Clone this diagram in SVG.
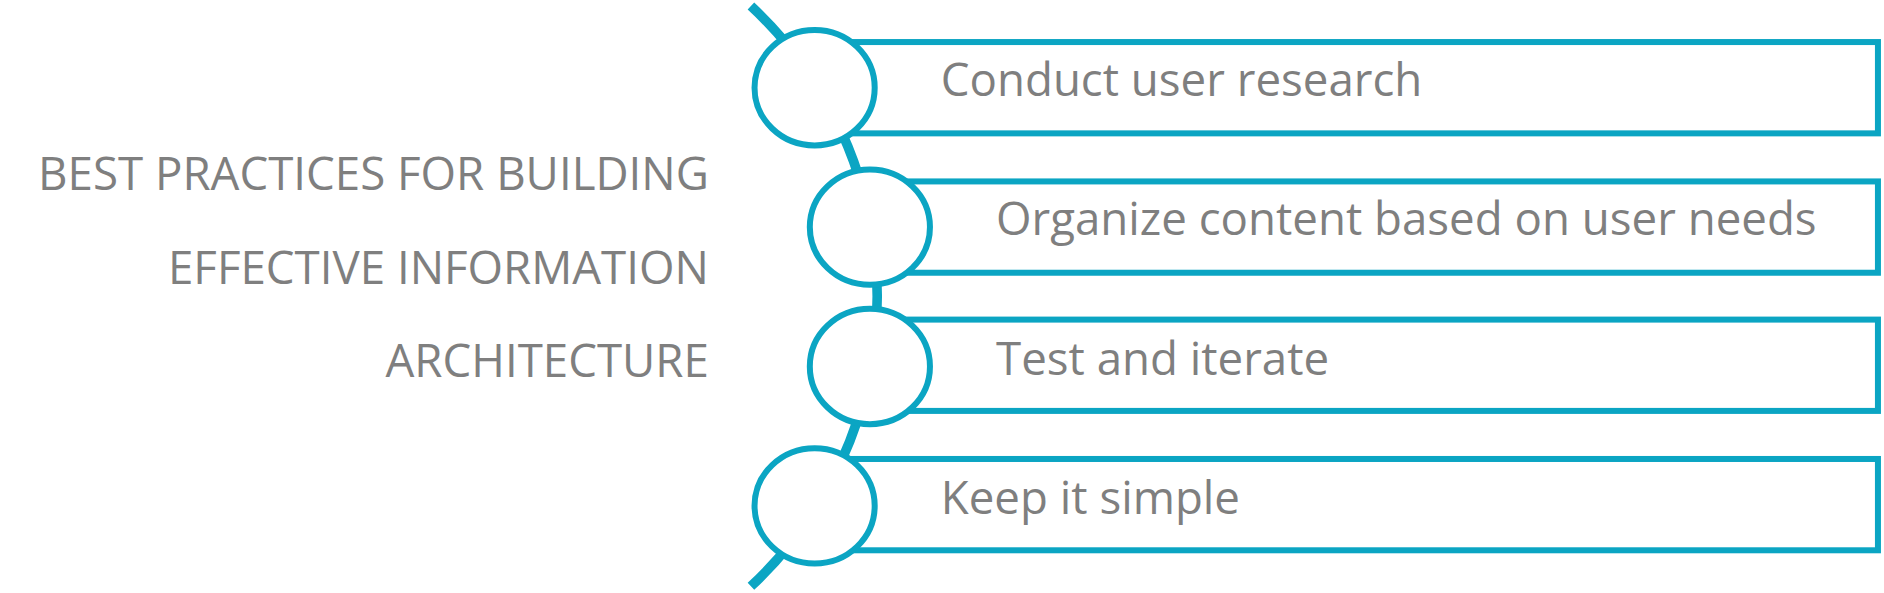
<svg xmlns="http://www.w3.org/2000/svg" width="1884" height="593" viewBox="0 0 1884 593">
<style>
.s{fill:#fff;stroke:#0ba5c3;stroke-width:5}
.t{font-family:"Open Sans",sans-serif;font-size:38px;fill:#7f7f7f}
</style>
<rect width="1884" height="593" fill="#fff"/>
<g transform="scale(1.2015)">
<g id="connectors"><path d="M625,5 A330,330 0 0 1 625,488" fill="none" stroke="#0ba5c3" stroke-width="8"/></g>
<g id="title" class="t" text-anchor="end">
<text x="590" y="158">BEST PRACTICES FOR BUILDING</text>
<text x="590" y="236">EFFECTIVE INFORMATION</text>
<text x="590" y="314">ARCHITECTURE</text>
</g>
<g id="n1"><rect class="s" x="708" y="35" width="855" height="76"/><ellipse class="s" cx="678" cy="73" rx="50" ry="48"/><text class="t" x="783" y="80">Conduct user research</text></g>
<g id="n2"><rect class="s" x="754" y="151" width="809" height="76"/><ellipse class="s" cx="724" cy="189" rx="50" ry="48"/><text class="t" x="829" y="196">Organize content based on user needs</text></g>
<g id="n3"><rect class="s" x="754" y="266" width="809" height="76"/><ellipse class="s" cx="724" cy="305" rx="50" ry="48"/><text class="t" x="829" y="312">Test and iterate</text></g>
<g id="n4"><rect class="s" x="708" y="382" width="855" height="76"/><ellipse class="s" cx="678" cy="421" rx="50" ry="48"/><text class="t" x="783" y="428">Keep it simple</text></g>
</g>
</svg>
